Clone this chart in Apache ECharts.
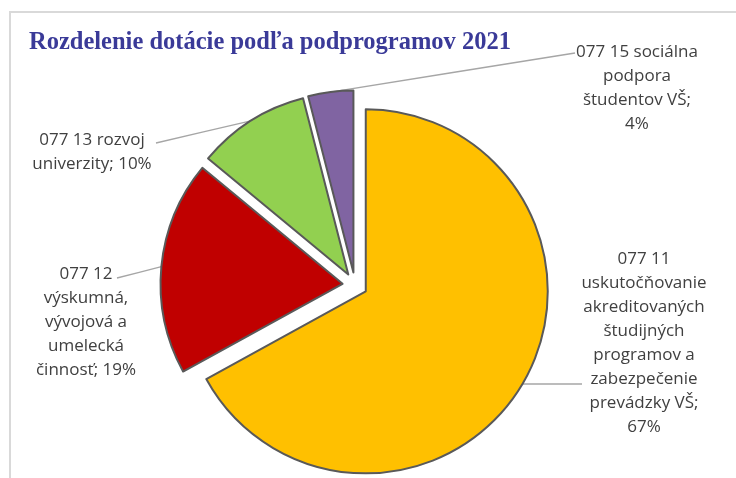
<!DOCTYPE html>
<html>
<head>
<meta charset="utf-8">
<script src="https://cdn.jsdelivr.net/npm/echarts@6/dist/echarts.min.js"></script>
<style>
html,body{margin:0;padding:0;background:#fff;}
#chart{width:736px;height:478px;}
</style>
</head>
<body>
<div id="chart"></div>
<script>
// ---- data ----
var titleText = 'Rozdelenie dotácie podľa podprogramov 2021';
var categories = [
  '077 11\nuskutočňovanie\nakreditovaných\nštudijných\nprogramov a\nzabezpečenie\nprevádzky VŠ',
  '077 12\nvýskumná,\nvývojová a\numelecká\nčinnosť',
  '077 13 rozvoj\nuniverzity',
  '077 15 sociálna\npodpora\nštudentov VŠ'
];
var values = [67, 19, 10, 4];
var colors = ['#FFC000', '#C00000', '#92D050', '#8064A2'];

// ---- layout (label placement, px) ----
var CX = 355, CY = 285, R = 182, OFF = 12.5;
var labelSep = ['\n', ' ', ' ', '\n'];
var labelPos = [[644, 343], [86, 322], [92, 152], [637, 88]];
var lineEnd = [[582, null], [117, 278], [156, 143], [575, 53]];

var total = values.reduce(function (a, b) { return a + b; }, 0);
var midAngles = [];
(function () {
  var cum = 0;
  for (var i = 0; i < values.length; i++) {
    midAngles.push((cum + values[i] / 2) / total * 2 * Math.PI);
    cum += values[i];
  }
})();

function makeSeries(k) {
  var a = midAngles[k];
  var cx = CX + OFF * Math.sin(a);
  var cy = CY - OFF * Math.cos(a);
  return {
    type: 'pie',
    center: [cx, cy],
    radius: R,
    startAngle: 90,
    clockwise: true,
    silent: true,
    avoidLabelOverlap: false,
    emphasis: { disabled: true },
    label: {
      position: 'outside',
      formatter: function (p) {
        return p.name + ';' + labelSep[p.dataIndex] + Math.round(p.percent) + '%';
      },
      fontFamily: 'Open Sans',
      fontSize: 17,
      lineHeight: 24,
      color: '#404040',
      align: 'center'
    },
    labelLine: { lineStyle: { color: '#A6A6A6', width: 1.3 } },
    labelLayout: function (params) {
      var i = params.dataIndex;
      if (i !== k) return {};
      var sx = CX + (R + OFF) * Math.sin(a);
      var sy = CY - (R + OFF) * Math.cos(a);
      var ex = lineEnd[i][0];
      var ey = lineEnd[i][1] == null ? sy : lineEnd[i][1];
      return {
        x: labelPos[i][0],
        y: labelPos[i][1],
        align: 'center',
        verticalAlign: 'middle',
        labelLinePoints: [[sx, sy], [(sx + ex) / 2, (sy + ey) / 2], [ex, ey]]
      };
    },
    data: values.map(function (v, i) {
      var on = i === k;
      return {
        name: categories[i],
        value: v,
        itemStyle: on
          ? { color: colors[i], borderColor: '#595959', borderWidth: 2 }
          : { color: 'rgba(0,0,0,0)', borderWidth: 0 },
        label: { show: on },
        labelLine: { show: on }
      };
    })
  };
}

var chart = echarts.init(document.getElementById('chart'));
var option = {
  backgroundColor: '#ffffff',
  animation: false,
  title: {
    text: titleText,
    left: 29,
    top: 30,
    padding: 0,
    textStyle: {
      fontFamily: 'Liberation Serif',
      fontWeight: 'bold',
      fontSize: 24.5,
      color: '#3A3A98'
    }
  },
  graphic: [{
    type: 'rect',
    shape: { x: 10, y: 12, width: 900, height: 700 },
    style: { fill: 'none', stroke: '#D9D9D9', lineWidth: 2 },
    silent: true
  }],
  series: values.map(function (v, k) { return makeSeries(k); })
};
chart.setOption(option);
</script>
</body>
</html>
